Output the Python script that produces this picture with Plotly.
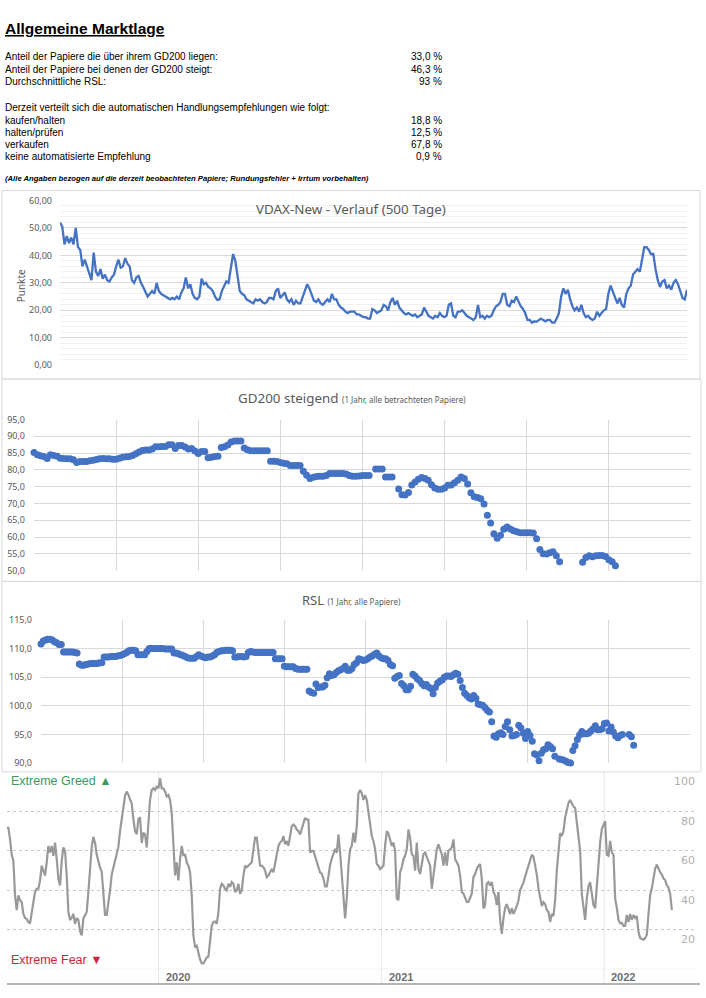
import plotly.graph_objects as go
import pandas as pd

# ---------------- data ----------------
summary_labels = ["Anteil der Papiere die über ihrem GD200 liegen:",
                  "Anteil der Papiere bei denen der GD200 steigt:",
                  "Durchschnittliche RSL:"]
summary_values = ["33,0 %", "46,3 %", "93 %"]
reco_intro = "Derzeit verteilt sich die automatischen Handlungsempfehlungen wie folgt:"
reco_labels = ["kaufen/halten", "halten/prüfen", "verkaufen", "keine automatisierte Empfehlung"]
reco_values = ["18,8 %", "12,5 %", "67,8 %", "0,9 %"]
note_text = "(Alle Angaben bezogen auf die derzeit beobachteten Papiere; Rundungsfehler + Irrtum vorbehalten)"

vdax = [52, 50.5, 44, 47, 44.5, 46.5, 44, 50, 43, 42, 36, 38.5, 36, 33, 31, 41, 34, 32.5, 35, 31.5,
        33, 31, 30.5, 32, 33, 36, 38.5, 35.5, 36, 39, 37, 36, 31, 30, 32, 32.5, 30, 28.5, 26.5, 25,
        26, 27, 26, 30, 27, 26, 25.5, 25, 24.5, 24, 24.5, 24, 25, 24, 26.5, 28, 32, 28, 29.5, 26,
        24.5, 24, 25, 31.5, 29.5, 30, 28.5, 28, 27, 25, 23.8, 24, 27, 28.5, 30.5, 30, 35, 40.5, 38, 33,
        27, 26, 25.5, 24, 23.5, 23, 22.5, 24, 23.5, 24, 23, 22.5, 23, 24.5, 24.5, 24, 27, 28, 24.5, 25.5,
        26.5, 24, 23, 24, 22, 23.5, 22.5, 22.5, 25, 27.5, 29.5, 28, 25.5, 23.5, 23, 24, 22.5, 22, 23, 24,
        23, 26, 24, 24, 22, 21, 20.5, 19.5, 19, 19.5, 19.5, 19.5, 18.5, 18.5, 18, 17.5, 17.5, 17, 17, 20.5,
        20, 19, 19.5, 20, 22, 21.5, 20, 23, 24.5, 22, 23.5, 21, 20, 19, 18.5, 19, 18.5, 18, 18.5, 17.5,
        18, 18.5, 21, 19.5, 18, 17.5, 17, 18, 17.5, 19, 18, 17.5, 18, 22, 22.5, 18, 17.5, 19.5, 19.5, 20,
        19, 18, 17.5, 17, 16.5, 17.5, 22, 17.5, 18, 17, 18, 17.5, 18, 20, 21.5, 22, 23, 26, 26, 22,
        21.5, 23.5, 23, 25, 23, 21.5, 20.5, 19, 16.5, 16.5, 15.5, 16, 15.8, 16.5, 17, 16.5, 16, 16.5, 16.5, 15.5,
        15.5, 17, 19, 25, 28, 26, 27.5, 24, 21.5, 20, 21, 19.5, 22, 19, 17.5, 18, 17, 16.5, 17, 19.5,
        18, 19, 20, 20.5, 26, 29, 27, 25, 22.5, 24.5, 22, 21, 26, 28, 29, 33, 34, 35, 34, 38,
        43, 43, 42, 40.5, 40.5, 35, 31, 28.5, 30.5, 31, 28, 29, 27.5, 30, 31, 29.5, 27, 24.5, 24, 27.5]

N_ = None
gd200 = [85.2, 84.5, 84.2, 84.0, 83.4, 84.5, 84.3, 84.1, 83.5, 83.4,
         83.3, 83.3, 83.0, 82.2, 82.5, 82.5, 82.5, 82.7, 82.9, 83.1,
         83.3, 83.4, 83.3, 83.3, 83.2, 83.2, 83.5, 83.8, 83.9, 84.0,
         84.3, 84.8, 85.3, 85.8, 85.9, 85.9, 86.2, 86.9, 86.9, 87.0,
         87.0, 87.5, 87.5, 86.4, 87.3, 87.3, 86.8, 86.2, 86.4, 85.6,
         84.9, 85.5, 85.5, 83.6, 83.8, 84.0, 84.1, 86.7, 86.9, 87.4,
         88.3, 88.6, 88.6, 88.6, 86.5, 86.0, 85.7, 85.7, 85.7, 85.7,
         85.7, 85.7, 82.6, 82.6, 82.5, 82.2, 82.0, 81.8, 81.3, 81.3,
         81.3, 81.3, 79.6, 78.4, 77.4, 77.8, 78.0, 78.1, 78.1, 78.3,
         78.9, 78.9, 78.9, 78.9, 78.9, 78.8, 78.3, 78.1, 78.1, 78.2,
         78.3, 78.3, 78.3, N_, 80.3, 80.3, 80.3, 77.9, 77.9, 77.9,
         N_, 74.3, 72.6, 72.5, 73.3, 75.5, 76.4, 77.2, 77.7, 77.4,
         76.9, 75.6, 74.6, 74.2, 74.2, 74.6, 75.4, 75.5, 76.2, 76.9,
         77.9, 77.4, 75.8, 73.2, 72.0, 71.8, 71.4, 69.8, 66.5, 64.2,
         61.0, 59.6, 60.5, 62.3, 63.0, 62.4, 61.9, 61.6, 61.3, 61.3,
         61.3, 61.3, 61.2, 59.5, 56.3, 55.0, 54.9, 55.3, 55.6, 54.4,
         52.6, 49.9, N_, N_, N_, N_, N_, 52.5, 53.9, 54.4,
         54.1, 54.4, 54.5, 54.5, 54.2, 53.2, 52.6, 51.4]

rsl = [110.8, 111.3, 111.5, 111.6, 111.6, 111.5, 111.2, 111.0, 110.7, 110.7,
       109.4, 109.4, 109.4, 109.4, 109.4, 109.3, 109.2, 107.3, 107.1, 107.1,
       107.2, 107.3, 107.4, 107.4, 107.4, 107.4, 107.5, 107.5, 108.5, 108.5,
       108.5, 108.6, 108.6, 108.6, 108.7, 108.8, 108.9, 109.1, 109.3, 109.6,
       109.7, 109.7, 109.6, 108.9, 108.9, 108.9, 108.9, 109.5, 110.0, 110.0,
       110.0, 110.0, 110.0, 110.0, 110.0, 109.9, 109.9, 109.9, 109.9, 109.2,
       109.2, 109.1, 108.9, 108.8, 108.6, 108.4, 108.3, 108.3, 108.3, 108.6,
       108.9, 108.7, 108.5, 108.4, 108.5, 108.5, 108.7, 108.9, 109.3, 109.5,
       109.6, 109.6, 109.7, 109.7, 109.7, 109.6, 108.5, 108.5, 108.6, 108.6,
       108.5, 108.6, 109.3, 109.5, 109.4, 109.3, 109.3, 109.3, 109.3, 109.3,
       109.3, 109.3, 109.3, 109.3, 108.2, 108.2, 108.2, 108.2, 106.9, 106.8,
       106.8, 106.8, 106.8, 106.5, 106.4, 106.4, 106.4, 106.4, 106.4, 102.6,
       102.3, 102.2, 103.8, 103.2, 103.3, 103.3, 103.6, 104.9, 105.6, 105.3,
       105.4, 105.8, 106.1, 106.3, 106.5, 106.9, 106.2, 106.2, 106.5, 107.2,
       107.5, 108.2, 108.1, 107.9, 108.0, 108.2, 108.5, 108.7, 109.0, 109.2,
       108.7, 108.4, 108.2, 108.2, 107.9, 107.2, 107.0, 104.8, 105.1, 105.3,
       103.9, 103.5, 102.8, 102.8, 103.4, 105.5, 105.2, 104.7, 104.4, 103.9,
       103.5, 103.7, 103.3, 103.0, 102.1, 103.2, 104.0, 104.3, 104.5, 105.0,
       105.2, 105.2, 105.1, 105.4, 105.7, 105.5, 104.4, 103.2, 102.2, 101.8,
       101.4, 101.2, 101.8, 101.3, 100.3, 100.2, 100.1, 99.7, 99.2, 98.9,
       97.2, 94.7, 94.5, 95.1, 95.3, 95.0, 96.4, 97.2, 95.8, 94.7,
       94.8, 95.0, 96.6, 96.1, 95.2, 94.3, 95.5, 94.8, 93.8, 91.6,
       91.4, 90.4, 91.7, 92.3, 92.5, 93.2, 92.9, 92.5, 91.2, N_,
       90.7, 90.6, 90.5, 90.3, 90.1, 90.0, 92.2, 93.0, 94.1, 94.9,
       95.5, 95.1, 95.1, 95.2, 95.6, 96.0, 96.5, 95.8, 95.8, 96.0,
       96.9, 97.0, 95.6, 96.3, 95.4, 94.7, 94.4, 94.8, 95.0, N_,
       N_, 95.0, 94.6, 93.1]

fg_start, fg_end = "2019-04-27", "2022-04-22"
fear_greed = [71.7, 71.7, 66, 58, 55, 37.5, 30, 37.5, 35, 34, 28, 26, 25.5, 24, 23.3, 29, 35.8, 39.2, 40.8, 40.8,
              45, 52.5, 50, 47.5, 54.2, 62.5, 59.2, 62.5, 57.5, 64.2, 55.8, 45.8, 42.5, 55, 61.7, 60, 47.5, 29, 25, 26,
              28, 23, 26, 25, 19.2, 17.2, 25.8, 27.5, 29, 39.2, 50, 62, 67, 64, 58, 54, 51.5, 49.5, 39.2, 27.5,
              27.5, 33, 40, 48, 51.5, 54, 58, 62, 70, 76, 83, 88, 90, 88.5, 86, 84, 76, 70, 68.5, 76,
              77, 64, 69.2, 68.3, 61.7, 75.8, 85.8, 90.8, 91.7, 90.8, 92.5, 91.7, 96.7, 91.7, 91.7, 90, 87.5, 88.3, 85.8, 79.2,
              60.8, 47.5, 54.2, 45, 55.8, 62.5, 57.5, 58.3, 54.2, 52.5, 49.2, 37.5, 17, 11.5, 12, 8, 5, 3, 3, 4.5,
              6, 6.5, 14, 22, 24, 24.2, 23, 29, 40.8, 43.3, 42.5, 40.8, 40, 43.3, 41.7, 44.2, 43.3, 39.2, 40, 43.3,
              38.3, 40, 47.5, 52.5, 51.7, 52.5, 53.3,
              54.2, 60.8, 66.7, 66.7, 59.2, 52.5, 52.5, 51.7, 50, 46.7, 47.5, 49.2, 50.8, 49.2, 54.2, 59.2, 62.5, 64.2, 65, 67.5,
              63.3, 65, 62.5, 67.5, 72.5, 73.3, 72.5, 70.8, 70, 68.3, 70.8, 74.2, 76.7, 75.8, 75.8, 59.2, 60, 60, 57, 54,
              51.5, 49, 48.5, 46, 42, 42, 47, 53, 56, 59, 61, 59, 68.3, 59.2, 47.5, 34.2, 25.8, 35.8, 52.5, 60.8,
              62.5, 69.2, 64.2, 72.5, 89.2, 90.8, 89.2, 85.8, 88.3, 85.8, 79.2, 72.5, 67.5, 65, 60.8, 53.3, 52.5, 50.8, 51.7, 52.5,
              62.5, 70, 68.8, 65, 62.5, 64.2, 60, 35.8, 35, 49.2, 51.7, 55.8, 57.5, 60.8, 70.8, 66.7, 58.3, 57.5, 50, 64.2,
              50.8, 48.3, 54.2, 58.3, 59.2, 56.7, 54.2, 52.5, 40.8, 47.5, 54.2, 60.8, 63.3, 60.8, 58.3, 52.5, 59.2, 52.5, 60, 60.8,
              61.7, 65.8, 55.8, 54.2, 52.5, 47.5, 39.2, 38.3, 35.8, 34.2, 34.2, 36.7, 38.3, 46.7, 48.3, 50.8, 52.5, 53.3, 45.8, 30.8,
              32.5, 43.3, 44.2, 42.5, 44.2, 39.2, 37.5, 32.5, 39.2, 25,
              18, 26, 31, 33, 30, 28, 31, 28, 30, 32, 35, 40, 42, 44, 47, 50, 52, 55, 58, 57,
              53, 48, 41, 36, 32, 34, 33, 30, 29, 24, 28, 27, 35, 50, 62, 69,
              67.5, 70, 77, 80.8, 84.2, 85.8, 84, 82.5, 81.7, 74.2, 67.5, 60, 38, 32.5, 25, 35.8, 42, 44.2, 37, 32.5,
              31, 42, 55, 64.2, 71, 73.5, 75, 58, 57.5, 65, 59.2, 58, 35.8, 31, 25, 23.3, 23.5, 22, 22, 27.5,
              24, 28, 25, 27.5, 26, 27, 19, 15.8, 15.5, 15, 15.8, 17.5, 28, 37.5, 41, 45.8, 51, 53, 51, 49.2,
              48, 46, 45.2, 42.5, 41.5, 38.3, 30]
fg_year_ticks = ["2020-01-01", "2021-01-01", "2022-01-01"]
fg_year_labels = ["2020", "2021", "2022"]
fg_level_ticks = [100, 80, 60, 40, 20]

# ---------------- layout helpers ----------------
W, H = 706, 998
def fx(px):
    return px / W
def fy(py):
    return 1 - py / H

BLUE = "#4472C4"
AXC = "#595959"
GRID = "#d9d9d9"
EXCEL_FONT = "Noto Sans"

fig = go.Figure()

# VDAX line
fig.add_trace(go.Scatter(x=list(range(len(vdax))), y=vdax, mode="lines",
                         line=dict(color=BLUE, width=2.3), xaxis="x", yaxis="y",
                         hoverinfo="skip"))
# GD200 dots
fig.add_trace(go.Scatter(x=list(range(len(gd200))), y=gd200, mode="markers",
                         marker=dict(color=BLUE, size=7), xaxis="x2", yaxis="y2",
                         cliponaxis=False, hoverinfo="skip"))
# RSL dots
fig.add_trace(go.Scatter(x=list(range(len(rsl))), y=rsl, mode="markers",
                         marker=dict(color=BLUE, size=7), xaxis="x3", yaxis="y3",
                         cliponaxis=False, hoverinfo="skip"))
# Fear & Greed line
fg_dates = pd.date_range(fg_start, fg_end, periods=len(fear_greed))
fig.add_trace(go.Scatter(x=fg_dates, y=fear_greed, mode="lines",
                         line=dict(color="#999999", width=2.2), xaxis="x4", yaxis="y4",
                         hoverinfo="skip"))

tickfont = dict(family=EXCEL_FONT, size=9, color=AXC)

fig.update_layout(
    width=W, height=H, margin=dict(l=0, r=0, t=0, b=0),
    paper_bgcolor="white", plot_bgcolor="white", showlegend=False,
    separators=",.",
    xaxis=dict(domain=[fx(60), fx(687)], range=[0, len(vdax) - 1], showgrid=False,
               showticklabels=False, zeroline=False, anchor="y"),
    yaxis=dict(domain=[fy(363), fy(196)], range=[0, 60], dtick=10, tickformat=".2f",
               gridcolor=GRID, zeroline=False, tickfont=tickfont, ticklabelstandoff=7,
               minor=dict(dtick=2, showgrid=True, gridcolor="#f0f0f0"), anchor="x"),
    xaxis2=dict(domain=[fx(34), fx(691)], range=[0, 200], dtick=25, tick0=0, showgrid=True,
                gridcolor=GRID, showticklabels=False, zeroline=False, anchor="y2"),
    yaxis2=dict(domain=[fy(571), fy(418)], range=[50, 95], dtick=5, tickformat=".1f",
                gridcolor=GRID, zeroline=False, tickfont=tickfont, ticklabelstandoff=8,
                anchor="x2"),
    xaxis3=dict(domain=[fx(41), fx(690)], range=[0, 288], dtick=36, tick0=0, showgrid=True,
                gridcolor=GRID, showticklabels=False, zeroline=False, anchor="y3"),
    yaxis3=dict(domain=[fy(766), fy(621)], range=[90, 115], dtick=5, tickformat=".1f",
                gridcolor=GRID, zeroline=False, tickfont=tickfont, ticklabelstandoff=8,
                anchor="x3"),
    xaxis4=dict(domain=[fx(6.7), fx(695)], type="date",
                range=["2019-04-27", "2022-05-30"], showgrid=False, showticklabels=False,
                zeroline=False, anchor="y4"),
    yaxis4=dict(domain=[fy(975), fy(775)], range=[0, 100], tickvals=[20, 40, 60, 80],
                showgrid=True, gridcolor="#c8c8c8", griddash="dot", showticklabels=False,
                zeroline=False, anchor="x4"),
)

shapes = []
# panel frames
for (x0, y0, x1, y1) in [(2, 186, 700, 377), (2, 377, 701, 582), (2, 582, 701, 775)]:
    shapes.append(dict(type="rect", xref="paper", yref="paper", x0=fx(x0), x1=fx(x1),
                       y0=fy(y1), y1=fy(y0), line=dict(color="#d9d9d9", width=1), layer="below"))
# fear & greed frame lines
for d in fg_year_ticks:
    shapes.append(dict(type="line", xref="x4", yref="paper", x0=d, x1=d, y0=fy(990), y1=fy(775),
                       line=dict(color="#e6e6e6", width=1), layer="below"))
shapes.append(dict(type="line", xref="paper", yref="y4", x0=fx(7), x1=fx(695), y0=0, y1=0,
                   line=dict(color="#e2e2e2", width=1), layer="below"))
shapes.append(dict(type="line", xref="paper", yref="paper", x0=fx(7), x1=fx(700), y0=fy(990), y1=fy(990),
                   line=dict(color="#b4b4b4", width=2)))
fig.update_layout(shapes=shapes)

ann = []
HF = "Liberation Sans"
ann.append(dict(text="<b><u>Allgemeine Marktlage</u></b>", x=fx(3), y=fy(22), xanchor="left",
                yanchor="middle", font=dict(family=HF, size=15.5, color="black")))
for lab, val, py in zip(summary_labels, summary_values, [50.5, 63, 75.5]):
    ann.append(dict(text=lab, x=fx(3), y=fy(py), xanchor="left", yanchor="middle",
                    font=dict(family=HF, size=10, color="black")))
    ann.append(dict(text=val, x=fx(444), y=fy(py), xanchor="right", yanchor="middle",
                    font=dict(family=HF, size=10, color="black")))
ann.append(dict(text=reco_intro, x=fx(3), y=fy(101.5), xanchor="left", yanchor="middle",
                font=dict(family=HF, size=10, color="black")))
for lab, val, py in zip(reco_labels, reco_values, [114.8, 127, 139.3, 151.7]):
    ann.append(dict(text=lab, x=fx(3), y=fy(py), xanchor="left", yanchor="middle",
                    font=dict(family=HF, size=10, color="black")))
    ann.append(dict(text=val, x=fx(444), y=fy(py), xanchor="right", yanchor="middle",
                    font=dict(family=HF, size=10, color="black")))
ann.append(dict(text="<b><i>" + note_text + "</i></b>", x=fx(3), y=fy(174), xanchor="left",
                yanchor="middle", font=dict(family=HF, size=7.7, color="black")))

# chart titles
ann.append(dict(text="VDAX-New - Verlauf (500 Tage)", x=fx(351), y=fy(205), xanchor="center",
                yanchor="middle", font=dict(family=EXCEL_FONT, size=13.4, color=AXC)))
ann.append(dict(text="Punkte", x=fx(21), y=fy(283), xanchor="center", yanchor="middle", textangle=-90,
                font=dict(family=EXCEL_FONT, size=10, color=AXC)))
ann.append(dict(text="GD200 steigend <span style='font-size:8px'>(1 Jahr, alle betrachteten Papiere)</span>",
                x=fx(352), y=fy(396), xanchor="center", yanchor="middle",
                font=dict(family=EXCEL_FONT, size=13.4, color=AXC)))
ann.append(dict(text="RSL <span style='font-size:8px'>(1 Jahr, alle Papiere)</span>",
                x=fx(351), y=fy(601), xanchor="center", yanchor="middle",
                font=dict(family=EXCEL_FONT, size=13, color=AXC)))

# fear & greed labels
for v in fg_level_ticks:
    ann.append(dict(text=str(v), xref="paper", yref="y4", x=fx(697), y=v, yshift=-10,
                    xanchor="right", yanchor="middle",
                    font=dict(family="DejaVu Sans", size=11, color="#b0b0b0")))
for d, lab in zip(fg_year_ticks, fg_year_labels):
    ann.append(dict(text="<b>" + lab + "</b>", xref="x4", yref="paper", x=d, y=fy(983), xshift=5,
                    xanchor="left", yanchor="middle",
                    font=dict(family="Liberation Sans", size=11, color="#6e6e6e")))
ann.append(dict(text="Extreme Greed ▲", x=fx(9), y=fy(784), xanchor="left", yanchor="middle",
                font=dict(family="Liberation Sans", size=12.5, color="#3a9a5c")))
ann.append(dict(text="Extreme Fear ▼", x=fx(9), y=fy(966), xanchor="left", yanchor="middle",
                font=dict(family="Liberation Sans", size=12.5, color="#c8283c")))

for a in ann:
    a.setdefault("xref", "paper")
    a.setdefault("yref", "paper")
    a["showarrow"] = False
fig.update_layout(annotations=ann)

fig.write_html("out.html", config={"displayModeBar": False},
               post_script="document.documentElement.style.margin='0';document.body.style.margin='0';"
                           "document.body.style.padding='0';document.body.style.overflow='hidden';")
